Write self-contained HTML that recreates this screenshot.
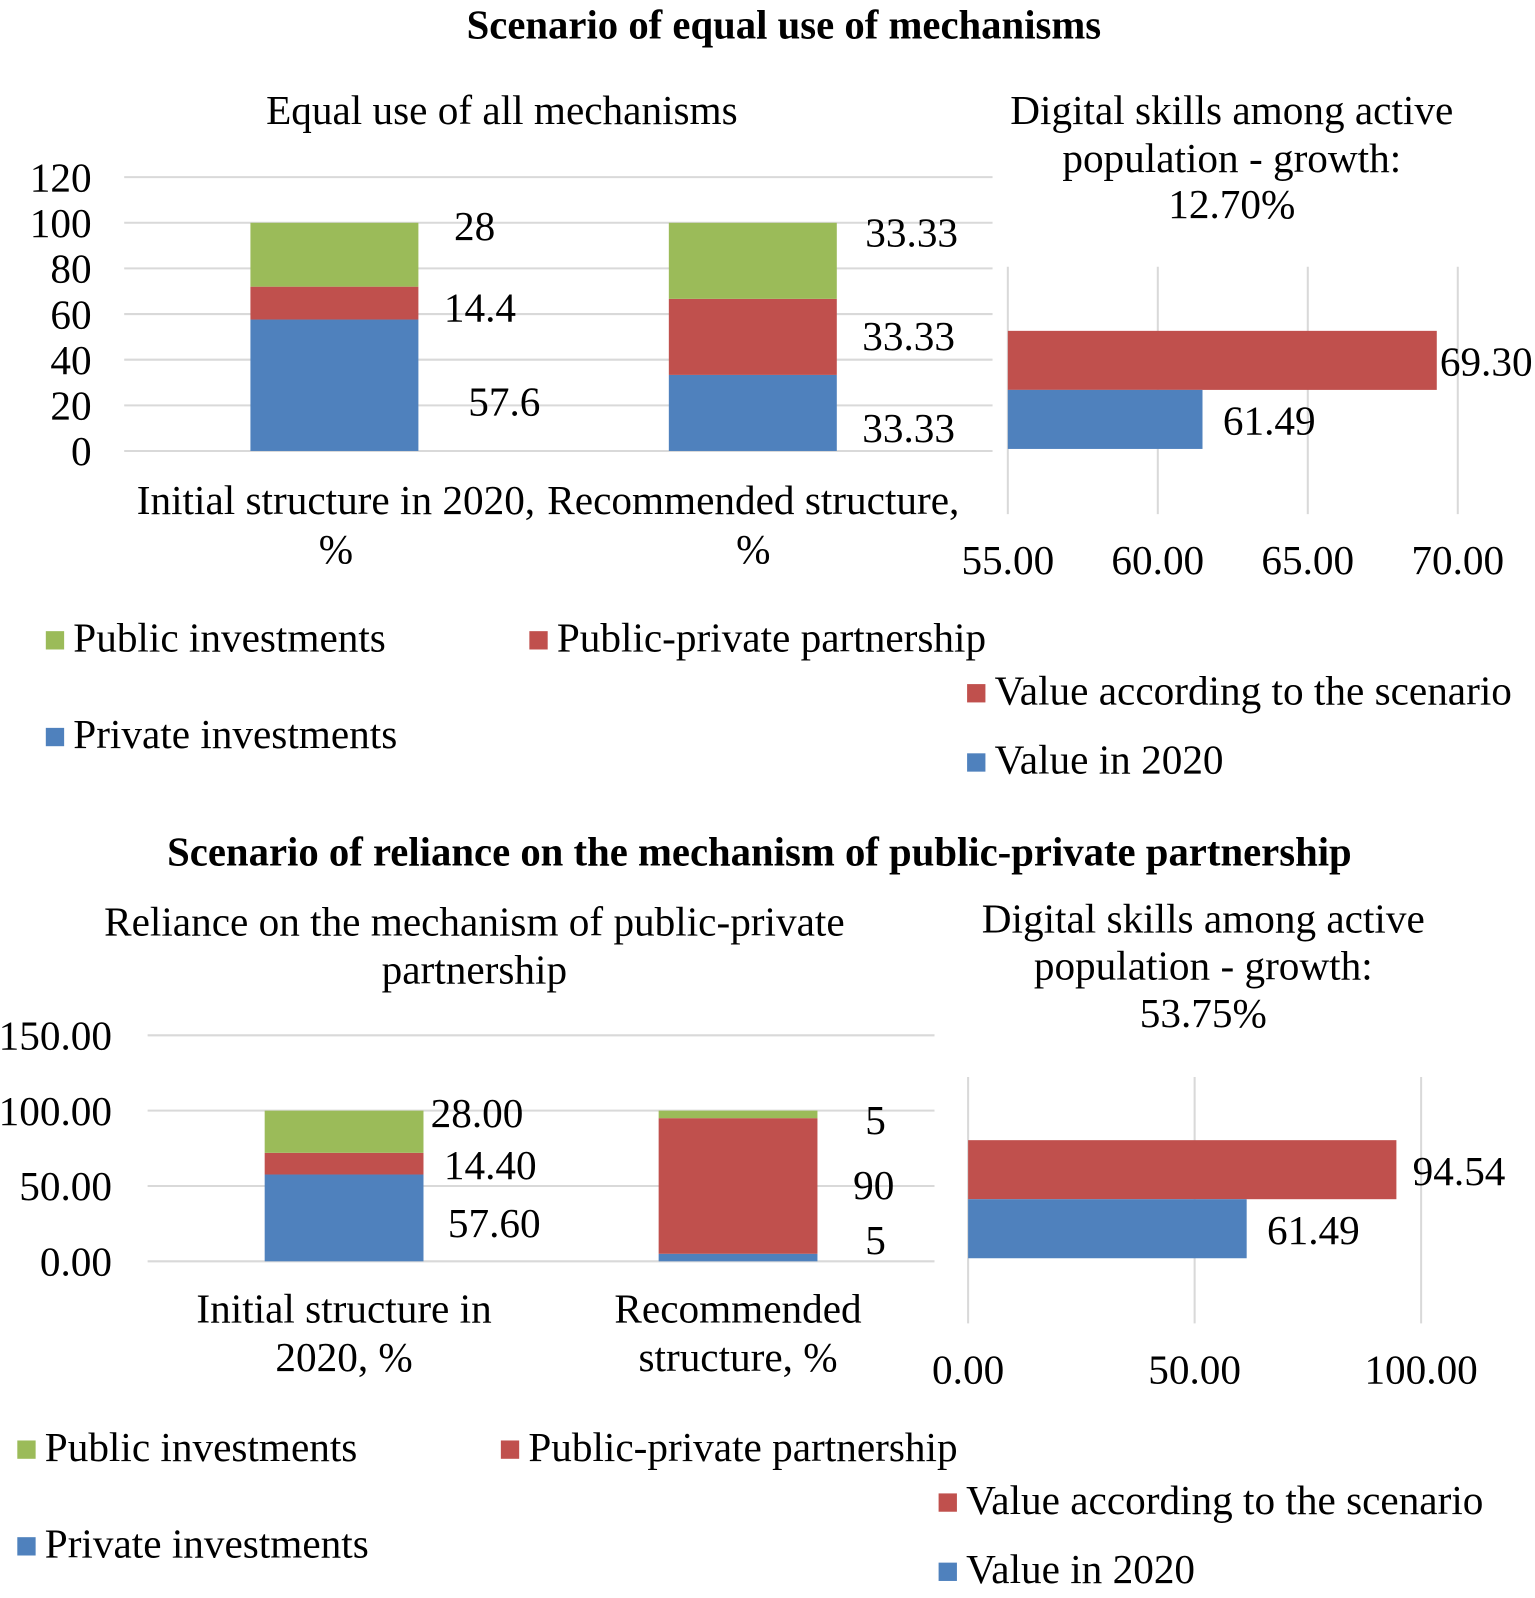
<!DOCTYPE html>
<html><head><meta charset="utf-8">
<style>
html,body{margin:0;padding:0;background:#fff}
svg{display:block}
text{font-family:"Liberation Serif",serif;fill:#000}
</style></head>
<body>
<svg id="root" width="1535" height="1598" viewBox="0 0 1535 1598" xmlns="http://www.w3.org/2000/svg"><g id="c" transform="scale(1.018)"></g></svg>
<script>
const stackCats1 = ["Initial structure in 2020, %", "Recommended structure, %"];
const privVals1 = [57.6, 33.33];
const pppVals1 = [14.4, 33.33];
const pubVals1 = [28, 33.33];
const privLbl1 = ["57.6", "33.33"];
const pppLbl1 = ["14.4", "33.33"];
const pubLbl1 = ["28", "33.33"];
const yTicks1 = [0, 20, 40, 60, 80, 100, 120];
const barVals1 = [61.49, 69.30];
const xTicks1 = [55, 60, 65, 70];

const privVals2 = [57.6, 5];
const pppVals2 = [14.4, 90];
const pubVals2 = [28, 5];
const privLbl2 = ["57.60", "5"];
const pppLbl2 = ["14.40", "90"];
const pubLbl2 = ["28.00", "5"];
const yTicks2 = [0, 50, 100, 150];
const barVals2 = [61.49, 94.54];
const xTicks2 = [0, 50, 100];

const GREEN="#9BBB59", RED="#C0504D", BLUE="#4F81BD", GRID="#D9D9D9";
const FS=40.5;
const svg=document.getElementById('c');
const NS="http://www.w3.org/2000/svg";
function el(tag,attrs,txt){const e=document.createElementNS(NS,tag);for(const k in attrs)e.setAttribute(k,attrs[k]);if(txt!==undefined)e.textContent=txt;svg.appendChild(e);return e;}
function txt(x,y,s,size,anchor,bold,name){const t=el('text',{x:x,y:y,'font-size':size,'text-anchor':anchor||'start','font-weight':bold?'bold':'normal'},s);


return t;}
function rect(x,y,w,h,f,name){const r=el('rect',{x:x,y:y,width:w,height:h,fill:f});


return r;}
function line(x1,y1,x2,y2,name){const l=el('line',{x1:x1,y1:y1,x2:x2,y2:y2,stroke:GRID,'stroke-width':2});


return l;}

function stacked(o){
  const yS=v=>o.y0-(v-o.ymin)/(o.ymax-o.ymin)*(o.y0-o.ytop);
  o.ticks.forEach(t=>{line(o.gx1,yS(t),o.gx2,yS(t),'y-gridline');txt(o.tickX,yS(t)+14,o.fmt(t),FS,'end',false,'y-tick-label');});
  for(let i=0;i<2;i++){
    const x=o.barX[i],w=o.barW;
    const a=o.priv[i],b=o.ppp[i],c=o.pub[i];
    rect(x,yS(a),w,yS(0)-yS(a),BLUE,'bar-private-'+(i+1));
    rect(x,yS(a+b),w,yS(a)-yS(a+b),RED,'bar-ppp-'+(i+1));
    rect(x,yS(a+b+c),w,yS(a+b)-yS(a+b+c),GREEN,'bar-public-'+(i+1));
    const lp=o.lblPos[i];
    txt(lp[0][0],lp[0][1],o.privL[i],FS,'start',false,'label-private-'+(i+1));
    txt(lp[1][0],lp[1][1],o.pppL[i],FS,'start',false,'label-ppp-'+(i+1));
    txt(lp[2][0],lp[2][1],o.pubL[i],FS,'start',false,'label-public-'+(i+1));
  }
}
function hbar(o){
  const xS=v=>o.x0+(v-o.xmin)/(o.xmax-o.xmin)*(o.x1-o.x0);
  o.ticks.forEach(t=>{line(xS(t),o.gy1,xS(t),o.gy2,'x-gridline');txt(xS(t),o.tickY,t.toFixed(2),FS,'middle',false,'x-tick-label');});
  rect(xS(o.xmin),o.redY,xS(o.vals[1])-xS(o.xmin),58,RED,'bar-scenario');
  rect(xS(o.xmin),o.redY+58,xS(o.vals[0])-xS(o.xmin),58,BLUE,'bar-2020');
  txt(xS(o.vals[1])+o.lblOff[1],o.redY+44,o.vals[1].toFixed(2),FS,'start',false,'label-scenario');
  txt(xS(o.vals[0])+o.lblOff[0],o.redY+102,o.vals[0].toFixed(2),FS,'start',false,'label-2020');
}
function legendItem(x,y,col,s,name){rect(x,y-20,18,18,col,name+'-swatch');txt(x+27,y,s,FS,'start',false,name);}

// ===== Top section
txt(770,38,"Scenario of equal use of mechanisms",40,'middle',true,'section-title-1');
txt(493,122,"Equal use of all mechanisms",FS,'middle',false,'chart-title-stacked-1');
stacked({y0:443,ytop:174,ymin:0,ymax:120,ticks:yTicks1,gx1:122,gx2:975,tickX:90,fmt:t=>String(t),
  barX:[246,657],barW:165,priv:privVals1,ppp:pppVals1,pub:pubVals1,privL:privLbl1,pppL:pppLbl1,pubL:pubLbl1,
  lblPos:[[[460,408],[436,316],[446,236]],[[847,434],[847,344],[850,242]]]});
txt(330,505,"Initial structure in 2020,",FS,'middle',false,'category-label');
txt(330,553,"%",FS,'middle',false,'category-label');
txt(740,505,"Recommended structure,",FS,'middle',false,'category-label');
txt(740,553,"%",FS,'middle',false,'category-label');
legendItem(45,640,GREEN,"Public investments",'legend-public');
legendItem(520,640,RED,"Public-private partnership",'legend-ppp');
legendItem(45,735,BLUE,"Private investments",'legend-private');

txt(1210,122,"Digital skills among active",FS,'middle',false,'chart-title-bar-1');
txt(1210,169,"population - growth:",FS,'middle',false,'chart-title-bar-1');
txt(1210,214,"12.70%",FS,'middle',false,'chart-title-bar-1');
hbar({x0:990,x1:1432,xmin:55,xmax:70,ticks:xTicks1,gy1:262,gy2:505,tickY:564,redY:325,vals:barVals1,lblOff:[20,3]});
legendItem(950,692,RED,"Value according to the scenario",'legend-scenario');
legendItem(950,760,BLUE,"Value in 2020",'legend-2020');

// ===== Bottom section
txt(746,850,"Scenario of reliance on the mechanism of public-private partnership",40,'middle',true,'section-title-2');
txt(466,919,"Reliance on the mechanism of public-private",FS,'middle',false,'chart-title-stacked-2');
txt(466,966,"partnership",FS,'middle',false,'chart-title-stacked-2');
stacked({y0:1239,ytop:1017,ymin:0,ymax:150,ticks:yTicks2,gx1:145,gx2:918,tickX:110,fmt:t=>t.toFixed(2),
  barX:[260,647],barW:156,priv:privVals2,ppp:pppVals2,pub:pubVals2,privL:privLbl2,pppL:pppLbl2,pubL:pubLbl2,
  lblPos:[[[440,1215],[436,1158],[423,1107]],[[850,1232],[838,1178],[850,1114]]]});
txt(338,1299,"Initial structure in",FS,'middle',false,'category-label');
txt(338,1347,"2020, %",FS,'middle',false,'category-label');
txt(725,1299,"Recommended",FS,'middle',false,'category-label');
txt(725,1347,"structure, %",FS,'middle',false,'category-label');
legendItem(17,1435,GREEN,"Public investments",'legend-public-2');
legendItem(492,1435,RED,"Public-private partnership",'legend-ppp-2');
legendItem(17,1530,BLUE,"Private investments",'legend-private-2');

txt(1182,916,"Digital skills among active",FS,'middle',false,'chart-title-bar-2');
txt(1182,962,"population - growth:",FS,'middle',false,'chart-title-bar-2');
txt(1182,1009,"53.75%",FS,'middle',false,'chart-title-bar-2');
hbar({x0:951,x1:1396,xmin:0,xmax:100,ticks:xTicks2,gy1:1058,gy2:1300,tickY:1359,redY:1120,vals:barVals2,lblOff:[20,16]});
legendItem(922,1487,RED,"Value according to the scenario",'legend-scenario-2');
legendItem(922,1555,BLUE,"Value in 2020",'legend-2020-2');
</script>
</body></html>
